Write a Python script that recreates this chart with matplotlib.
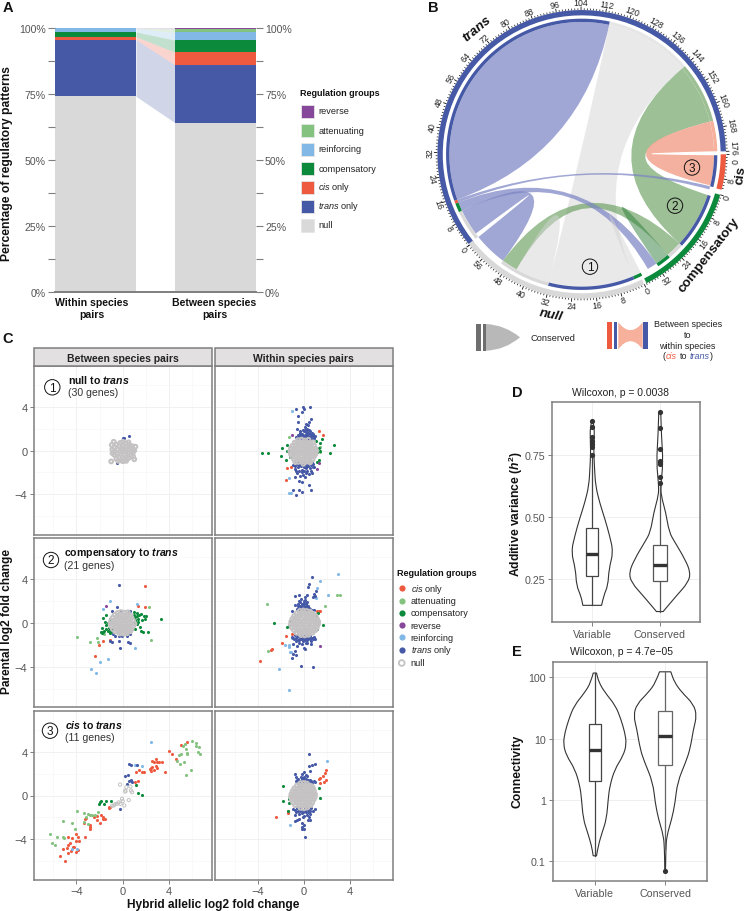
import numpy as np
import matplotlib
matplotlib.use("Agg")
import matplotlib.pyplot as plt
from matplotlib.path import Path
from matplotlib.patches import PathPatch, Circle, Rectangle
from matplotlib.collections import LineCollection

plt.rcParams['font.family'] = ['Liberation Sans', 'DejaVu Sans']
plt.rcParams['mathtext.fontset'] = 'custom'
plt.rcParams['mathtext.rm'] = 'Liberation Sans'
plt.rcParams['mathtext.it'] = 'Liberation Sans:italic'
plt.rcParams['mathtext.bf'] = 'Liberation Sans:bold'
plt.rcParams['mathtext.bfit'] = 'Liberation Sans:italic:bold'

W, H = 747, 912
GREY = '#555555'
FRAME = '#7f7f7f'
colors = {'reverse': '#87479A', 'attenuating': '#84C280', 'reinforcing': '#82B8E6',
          'compensatory': '#0B8A3C', 'cis': '#EE5A40', 'trans': '#4559A6', 'null': '#D9D9D9'}

# panel A
stack_groups = ['null', 'trans', 'cis', 'compensatory', 'reinforcing', 'attenuating', 'reverse']
within_pct = [74.0, 21.5, 1.1, 1.8, 1.3, 0.1, 0.2]
between_pct = [64.0, 21.9, 4.8, 4.6, 2.9, 1.4, 0.4]
legend_a = ['reverse', 'attenuating', 'reinforcing', 'compensatory', r'$\mathit{cis}$ only',
            r'$\mathit{trans}$ only', 'null']
legend_a_keys = ['reverse', 'attenuating', 'reinforcing', 'compensatory', 'cis', 'trans', 'null']

# panel B: sector angles in degrees, clockwise from 0 in sector units
unit_deg = 1.237
sector_start = {'trans': 218.9, 'cis': 0.0, 'compensatory': -16.3, 'null': -64.3}
sector_len = {'trans': 176, 'cis': 11.5, 'compensatory': 38, 'null': 62.5}
sector_tick_labels = {'trans': list(range(0, 177, 8)), 'cis': [0, 8],
                      'compensatory': [0, 8, 16, 24, 32], 'null': [0, 8, 16, 24, 32, 40, 48, 56]}
# (from, to), (from, to), colour key
ribbons = [
    ((78, 40.5), (-67.2, -104.4), 'grey'),
    ((40.5, 14.3), (-17.9, -42.4), 'green'),
    ((14.3, 1.3), (-0.4, -13.6), 'salmon'),
    ((216.8, 205.2), (-126.5, -141.3), 'purple'),
    ((-42.4, -49.5), (-119.5, -126.5), 'green'),
    ((205.2, 201.3), (-55.6, -60.0), 'purple'),
    ((201.3, 200.0), (-14.0, -15.4), 'purple'),
]
self_links = [((200.0, 78.0), 'purple'), ((-104.4, -119.5), 'grey'),
              ((-63.5, -67.2), 'grey'), ((-49.5, -55.6), 'darkgreen')]
chord_colors = {'grey': ('#D4D4D4', 0.5), 'green': ('#5C9650', 0.6), 'salmon': ('#F4A48E', 0.85),
                'purple': ('#7C85C4', 0.72), 'darkgreen': ('#2F7F3C', 0.5)}
outer_track = [('trans', '#4559A6'), ('cis', '#EE5A40'), ('compensatory', '#0B8A3C'), ('null', '#D9D9D9')]
inner_track = [(218.5, 205.2, '#D9D9D9'), (205.2, 201.3, '#0B8A3C'), (201.3, 200.0, '#EE5A40'),
               (200.0, 78.0, '#4559A6'), (78.0, 40.5, '#E6E6E6'), (40.5, 14.3, '#9DBF94'),
               (14.3, 1.3, '#F6B09C'), (-0.4, -14.0, '#4559A6'), (-17.9, -42.4, '#4559A6'),
               (-42.4, -49.5, '#D9D9D9'), (-49.5, -55.6, '#0B8A3C'), (-63.5, -67.2, '#0B8A3C'),
               (-67.2, -104.4, '#4559A6'), (-104.4, -126.5, '#D9D9D9')]
# label only nudges, degrees, so that 176 and 0 sit side by side
label_nudge = {('trans', 176): 1.6, ('cis', 0): -2.4}
sector_names = [('trans', 129.8, 1.136), ('cis', -7.2, 1.112), ('compensatory', -38, 1.122), ('null', -101, 1.127)]

# panel C: points
r1_between = {
    'trans': [(0.03, 1.12), (0.14, 1.18), (0.55, 1.3), (-0.52, -1.1)],
    'null': [(0, -.1), (.25, -.05), (-.25, -.1), (.1, .15), (-.1, .2), (.15, -.35), (-.15, -.35), (.45, .1),
             (-.45, .1), (.5, -.2), (-.5, -.25), (.3, .35), (-.3, .4), (.05, .45), (.35, -.55), (-.3, -.6),
             (.02, -.6), (.7, -.05), (-.7, -.05), (.7, .25), (-.7, .3), (.55, .5), (-.55, .55), (.25, .65),
             (-.2, .7), (.02, .8), (.7, -.4), (-.72, -.4), (.5, -.7), (-.55, -.75), (.15, -.85), (-.2, -.9),
             (.9, .1), (-.9, .1), (.88, -.2), (-.88, -.25), (.82, .4), (-.78, .8), (.5, .75), (1.0, -.8),
             (-1.0, -1.0), (1.1, .35), (.3, -.95), (-.4, -.95), (.9, -.55), (-.95, .5), (.02, -.98), (1.0, 0)],
}
r1_within = {
    'trans': [(-.64, -4.07), (-.9, -3.59), (-.46, -3.59), (-.17, -3.77), (.64, -3.59), (.41, -3.13), (-.17, -2.92),
              (-.46, -2.77), (-.75, -2.46), (.12, -2.46), (-.32, -2.31), (.41, -2.16), (.7, -2.07), (-.6, -2.1),
              (-.05, -2.2), (-.9, -1.3), (-.75, -1.7), (-.6, -1.25), (-.5, -1.55), (-.4, -1.9), (-.35, -1.2),
              (-.25, -1.45), (-.15, -1.75), (-.1, -1.2), (0, -1.5), (.05, -1.9), (.1, -1.25), (.2, -1.6), (.25, -1.2),
              (.3, -1.85), (.4, -1.4), (.45, -1.15), (.55, -1.6), (.65, -1.3), (.8, -1.2), (.9, -1.55), (-.55, -1.15),
              (.6, -1.85), (.15, -1.35), (-.3, -1.35), (-.8, -1.45), (-.65, -1.05), (-.45, -1.35), (-.2, -1.05), (-.02, -1.3),
              (.1, -1.05), (.3, -1.4), (.5, -1.05), (.7, -1.05), (.75, -1.5), (-.7, -1.9), (-.2, -2.0), (.2, -2.05),
              (-.04, 3.95), (.49, 3.95), (-.64, 3.83), (.03, 3.77), (-.12, 3.53), (-.52, 3.16), (.64, 2.86), (-.52, 2.64),
              (.41, 2.64), (.2, 2.46), (.12, 2.16), (.32, 2.31), (-.61, 2.0), (-.55, 1.45), (-.4, 1.2), (-.35, 1.6),
              (-.25, 1.3), (-.2, 1.05), (-.15, 1.55), (-.05, 1.2), (0, 1.75), (.05, 1.05), (.1, 1.4), (.15, 1.65),
              (.2, 1.15), (.25, 1.85), (.3, 1.35), (.35, 1.05), (.4, 1.6), (.45, 1.25), (.5, 1.75), (.55, 1.1), (.6, 1.45),
              (.65, 1.2), (.75, 1.35), (.85, 1.1), (.95, 1.3), (-.5, 1.1), (-.1, 1.9), (.3, 2.0), (.7, 1.6),
              (-.65, 1.25), (-.45, 1.4), (-.3, 1.1), (-.12, 1.4), (.02, 1.3), (.12, 1.15), (.28, 1.55), (.38, 1.3),
              (.52, 1.5), (.62, 1.05), (.8, 1.5), (.9, 1.15), (-.3, 1.75), (.42, 1.85), (.1, 1.85)],
    'compensatory': [(-3.65, -.27), (-3.1, -.21), (-1.88, .21), (-2.0, -.52), (-1.42, .49), (-1.48, -.03), (-1.19, -.03),
                     (-1.54, -.85), (-1.19, -.58), (1.07, .88), (1.57, 1.09), (1.42, .73), (2.61, .49), (2.29, -.21),
                     (1.28, .27), (1.13, -.12), (1.36, -.03), (1.28, -.85), (1.13, -1.09)],
    'cis': [(1.28, 1.79), (1.65, 1.46), (-1.42, -1.61), (-1.13, -1.55), (-1.54, -2.71)],
    'reinforcing': [(-1.33, -2.55), (-1.33, -3.92), (-1.1, -3.86), (-1.04, 3.65)],
    'attenuating': [(-1.33, 1.19), (1.36, .36), (1.42, -.12)],
    'reverse': [(-.99, 1.4), (1.28, -1.16), (1.13, -1.7)],
    'null': [(-.5, .95), (-.2, 1.0), (.1, .92), (.4, .98), (-.8, .72), (-.55, .68), (-.28, .75), (0, .7), (.27, .72),
             (.55, .66), (.8, .74), (-1.0, .42), (-.72, .48), (-.45, .43), (-.18, .5), (.08, .44), (.35, .47), (.62, .42),
             (.88, .48), (-1.13, .18), (-.86, .22), (-.6, .17), (-.32, .22), (-.05, .18), (.22, .23), (.48, .17), (.75, .21),
             (1.0, .17), (-1.18, -.07), (-.95, -.03), (-.7, -.08), (-.45, -.03), (-.18, -.07), (.08, -.03), (.35, -.08),
             (.6, -.03), (.87, -.07), (1.08, -.03), (-1.12, -.32), (-.85, -.27), (-.58, -.33), (-.3, -.28), (-.03, -.33),
             (.22, -.27), (.48, -.32), (.75, -.28), (1.0, -.33), (-1.02, -.57), (-.75, -.52), (-.47, -.58), (-.2, -.53),
             (.08, -.57), (.35, -.52), (.62, -.58), (.88, -.53), (-.85, -.82), (-.6, -.77), (-.32, -.83), (-.05, -.78),
             (.22, -.82), (.5, -.78), (.75, -.83), (-.5, -1.05), (-.2, -1.0), (.1, -1.07), (.4, -1.02), (-.75, -1.05),
             (-.05, -1.22), (.55, -1.08)],
}
r2_between = {
    'trans': [(-.29, 3.4), (-.46, 1.46), (-.93, 1.09), (-.84, -1.03), (-1.07, -1.7), (-.96, -1.73), (-.7, -1.22),
              (-.43, -.97), (-.32, -1.67), (-.2, -2.34), (.23, -1.03), (.38, -1.22), (.67, -1.03), (.46, -1.79),
              (.61, -1.88), (-.35, -1.19), (-.06, -1.19), (.52, 1.03), (.67, 1.06), (-.26, 1.03)],
    'cis': [(1.97, 3.37), (1.97, 1.46), (1.3, 1.52), (-1.07, -1.58), (-1.71, -1.64), (-2.03, -2.0), (-2.38, -2.98)],
    'compensatory': [(1.0, .95), (1.2, .85), (1.4, .75), (1.6, .8), (1.85, .65), (2.0, .58), (1.1, .5), (1.3, .33),
                     (1.7, .27), (1.1, .12), (1.3, .03), (1.97, .33), (1.2, -.12), (.95, -.1), (1.5, -.35), (1.05, .3),
                     (3.3, .36), (2.23, -.88), (1.74, -.82), (1.54, -.73), (1.1, -.58), (1.25, .65), (.98, .7),
                     (-1.42, .73), (-1.71, .4), (-1.5, .03), (-1.3, -.06), (-1.07, .12), (-1.07, .33), (-1.42, -.18),
                     (-1.22, -.43), (-1.42, -.55), (-1.13, -.73), (-.99, -.88), (-1.8, -.49), (-1.88, -.85), (-1.71, -.88),
                     (-1.59, -.73), (-1.28, -.73), (-1.07, -.94), (-1.8, -.97), (-.93, -.12), (-.99, -.58)],
    'reinforcing': [(-1.13, 1.98), (-1.71, 1.28), (1.28, 1.67), (1.1, -2.28), (-1.25, -3.31), (-1.97, -3.59), (-2.75, -4.22),
                    (-2.35, -4.59)],
    'attenuating': [(-3.97, -1.31), (-2.87, -1.73), (-2.2, -1.43), (-2.14, -1.73), (2.29, 1.4), (2.49, -1.58), (-1.59, -1.03)],
    'reverse': [(-1.45, 1.49)],
    'null': [(-.45, .9), (-.15, .98), (.15, .92), (.45, .96), (-.7, .72), (-.42, .67), (-.12, .74), (.15, .68), (.42, .72),
             (.68, .66), (-.88, .46), (-.6, .43), (-.33, .47), (-.05, .42), (.22, .47), (.5, .42), (.77, .45), (-1.0, .17),
             (-.75, .22), (-.48, .18), (-.2, .22), (.08, .17), (.35, .22), (.62, .18), (.9, .2), (-1.05, -.08), (-.82, -.05),
             (-.57, -.09), (-.3, -.04), (-.03, -.09), (.25, -.04), (.5, -.08), (.78, -.05), (1.02, -.08), (-.98, -.33),
             (-.72, -.3), (-.45, -.34), (-.18, -.29), (.1, -.34), (.37, -.29), (.63, -.33), (.9, -.3), (-.85, -.58),
             (-.58, -.54), (-.3, -.59), (-.03, -.54), (.24, -.58), (.5, -.54), (.76, -.58), (-.65, -.8), (-.37, -.78),
             (-.1, -.82), (.17, -.78), (.43, -.82), (.65, -.78), (-.25, -.98), (.1, -1.0), (.35, -.96)],
}
r2_within = {
    'trans': [(.72, 4.19), (.41, 3.53), (.35, 3.22), (1.07, 2.92), (.84, 2.61), (.99, 2.46), (.78, 2.31), (-.75, 2.46),
              (-.46, 2.55), (.26, 2.55), (.12, 2.31), (-.26, 2.16), (.12, 2.07), (-.46, 2.0), (-.75, 1.64), (-.5, 1.7),
              (-.3, 1.9), (-.15, 1.55), (0, 1.8), (.1, 1.4), (.2, 1.7), (.3, 1.9), (-.4, 1.3), (-.1, 1.2), (.3, 1.3),
              (.4, 1.55), (.55, 1.3), (.7, 1.2), (-.6, 1.25), (.05, 1.95), (-.25, 1.45), (.15, 1.15), (.85, 1.15),
              (-.55, 1.5), (-.2, 1.75), (.02, 1.55), (.25, 1.5), (.45, 1.35), (-.35, 1.55),
              (-1.04, 1.03), (-.03, -2.34), (.12, -2.4), (-.75, -2.61), (-.7, -2.92), (-.99, -3.25), (-.9, -2.86),
              (-.26, -3.98), (.81, -4.01), (-.61, -2.1), (-.9, -1.95), (-1.0, -1.25), (-.85, -1.5), (-.8, -1.15),
              (-.65, -1.7), (-.6, -1.3), (-.5, -1.1), (-.45, -1.55), (-.4, -1.85), (-.3, -1.25), (-.25, -1.5), (-.15, -1.15),
              (-.1, -1.7), (0, -1.35), (.05, -1.15), (.1, -1.55), (.15, -1.85), (.25, -1.25), (.3, -1.6), (.35, -1.15),
              (.45, -1.4), (.55, -1.2), (.6, -1.7), (.7, -1.35), (.85, -1.25), (.95, -1.5), (-.2, -1.35), (.2, -1.4),
              (-.9, -1.35), (-.72, -1.4), (-.55, -1.55), (-.35, -1.45), (-.08, -1.5), (.12, -1.35), (.35, -1.4), (.5, -1.5),
              (.8, -1.45), (-.15, -1.95), (.3, -1.85), (.6, -1.95)],
    'cis': [(1.13, 1.06), (1.3, 1.06), (1.42, 1.03), (-1.01, -1.03), (-1.57, -1.16), (-1.88, -1.85), (-2.78, -2.37),
            (-2.87, -2.46), (-3.8, -3.47)],
    'compensatory': [(-2.55, 0), (-1.48, -.36), (-1.28, -.33), (-1.13, .12), (-1.04, .24), (1.25, .88), (1.04, .67),
                     (1.13, .24), (1.19, -.06), (1.65, -.21), (1.13, -.58)],
    'reinforcing': [(2.96, 4.44), (1.42, 3.83), (1.13, 3.19), (2.06, 2.55), (1.04, 2.22), (-1.04, -1.34), (-1.62, -2.0),
                    (-1.33, -2.0), (-1.33, -2.25), (-1.1, -2.7), (-1.19, -2.7), (-2.14, -4.22), (-1.28, -6.14)],
    'attenuating': [(-3.16, 1.67), (1.83, 1.55), (2.9, 2.55), (3.16, 2.55), (-3.1, -2.58), (1.07, .79)],
    'reverse': [(1.36, -2.07)],
    'null': [(-.35, 1.08), (-.05, 1.12), (.25, 1.08), (.55, 1.02), (-.62, .88), (-.33, .85), (-.05, .9), (.23, .85), (.52, .88),
             (.8, .82), (-.85, .62), (-.58, .6), (-.3, .64), (-.02, .6), (.27, .64), (.55, .59), (.82, .63), (1.05, .58),
             (-1.0, .35), (-.75, .38), (-.48, .34), (-.2, .38), (.08, .34), (.36, .38), (.63, .34), (.9, .37), (1.15, .33),
             (-1.1, .08), (-.87, .12), (-.62, .08), (-.33, .11), (-.05, .07), (.22, .12), (.5, .08), (.78, .11), (1.03, .07),
             (1.25, .1), (-1.12, -.18), (-.88, -.14), (-.6, -.19), (-.33, -.14), (-.05, -.19), (.23, -.14), (.5, -.19),
             (.78, -.14), (1.05, -.19), (1.22, -.15), (-1.03, -.44), (-.76, -.4), (-.48, -.45), (-.2, -.4), (.08, -.45),
             (.36, -.4), (.63, -.45), (.9, -.4), (1.12, -.45), (-.85, -.68), (-.58, -.65), (-.3, -.7), (-.02, -.65),
             (.25, -.7), (.53, -.65), (.8, -.7), (1.0, -.66), (-.62, -.92), (-.35, -.9), (-.07, -.94), (.2, -.9), (.48, -.94),
             (.75, -.9), (-.25, -1.12), (.08, -1.15), (.4, -1.1)],
}
r3_between = {
    'cis': [(-4.99, -6.01), (-5.45, -5.5), (-5.16, -4.86), (-4.78, -4.83), (-4.7, -5.23), (-4.49, -5.05), (-4.75, -3.81),
            (-4.41, -3.93), (-4.03, -3.56), (-4.03, -4.17), (-3.8, -4.17), (-3.3, -3.84), (-3.91, -3.81), (-4.32, -4.68),
            (-4.55, -4.38), (-4.2, -4.74), (-3.91, -4.98), (-4.03, -5.14), (-4.7, -4.53), (-3.39, -2.48), (-3.22, -2.11),
            (-3.16, -2.05), (-2.81, -2.72), (-2.81, -3.02), (-2.87, -2.87), (-2.52, -1.96), (-2.23, -2.27), (-2.23, -1.87),
            (-1.94, -2.48), (-1.71, -1.96), (-1.57, -2.18), (-1.71, -2.11), (-1.86, -1.81), (-1.22, -1.06), (-1.07, -1.06),
            (-1.16, -1.12), (1.1, 1.21), (1.33, 1.36), (1.16, 2.11), (1.45, 2.3), (1.68, 2.11), (1.88, 2.11), (2.41, 2.27),
            (2.35, 2.42), (2.55, 2.57), (2.75, 2.36), (2.99, 2.48), (2.99, 3.02), (3.13, 3.08), (2.84, 3.32), (2.7, 3.02),
            (2.55, 3.17), (3.36, 3.08), (3.68, 2.18), (3.97, 4.05), (4.29, 3.75), (4.64, 3.32), (5.54, 4.89), (5.01, 4.59),
            (2.9, 2.72), (2.46, 2.48)],
    'compensatory': [(-2.03, -.76), (-1.86, -.54), (-1.94, -.6), (-1.65, -.76), (-1.42, -.54), (-1.01, -.51), (1.36, .24),
                     (1.65, .09), (1.13, 1.0)],
    'trans': [(.52, 2.9), (.75, 2.81), (1.25, 2.81), (.43, 1.87), (.23, 1.75), (.38, 1.06), (.52, 1.3), (.7, 1.42), (.81, 1.27),
              (-.2, -1.24)],
    'reinforcing': [(1.1, 2.81), (1.68, 2.72), (2.49, 4.92), (-4.41, -4.89), (-3.97, -4.89)],
    'attenuating': [(-6.29, -3.53), (-6.09, -4.32), (-5.86, -4.53), (-5.65, -3.75), (-5.19, -3.84), (-5.04, -3.93), (-5.19, -2.3),
                    (-4.35, -2.54), (-4.17, -3.08), (-3.94, -1.42), (-3.33, -1.57), (-3.04, -1.66), (-3.16, -1.96), (-3.39, -2.42),
                    (-2.87, -1.81), (-2.67, -1.81), (-2.43, -1.81), (-3.04, -2.57), (-2.17, -1.51), (6.03, 4.95), (6.38, 4.83),
                    (5.36, 4.74), (5.25, 4.53), (6.58, 4.44), (6.32, 4.53), (6.52, 4.02), (6.7, 3.84), (5.59, 3.87), (5.59, 3.78),
                    (5.45, 4.29), (5.01, 3.78), (4.87, 3.69), (4.72, 3.17), (4.93, 2.87), (5.3, 3.02), (5.45, 1.9), (5.91, 2.33)],
    'null': [(-.23, 1.0), (.23, .45), (.32, .76), (.67, .82), (.72, .45), (.81, .3), (.23, .36), (-.06, -.3), (0, -.51), (.52, -.42),
             (-.35, -.63), (-.64, -.79), (-.49, -.76), (-.78, -.91), (-.93, -.94), (.14, -.91), (-.2, -.76)],
}
r3_within = {
    'trans': [(.43, 3.78), (.99, 2.87), (.7, 2.78), (.41, 2.66), (.55, 2.27), (-.75, 1.96), (-.67, 1.66), (.03, 2.18), (-.17, 1.96),
              (-.7, 1.3), (-.5, 1.5), (-.35, 1.2), (-.25, 1.65), (-.1, 1.35), (0, 1.7), (.1, 1.2), (.2, 1.5), (.3, 1.1), (.4, 1.45),
              (.55, 1.25), (.7, 1.1), (.85, 1.3), (-.55, 1.1), (-.15, 1.1), (.15, 1.85), (.3, 1.75), (.99, 1.21),
              (-.6, 1.4), (-.42, 1.35), (-.18, 1.5), (.02, 1.25), (.25, 1.3), (.5, 1.4), (.65, 1.3), (-.05, 1.55),
              (.12, -3.78), (-.17, -3.08), (.03, -3.08), (-.17, -2.87), (.03, -2.72), (.49, -2.27), (.32, -2.27), (-.75, -2.36),
              (-.61, -2.27), (-.17, -2.48), (-.46, -2.11), (.41, -1.96), (-.75, -1.81), (.55, -1.66), (-.9, -1.2), (-.7, -1.5),
              (-.6, -1.15), (-.45, -1.7), (-.4, -1.3), (-.25, -1.15), (-.2, -1.6), (-.05, -1.3), (.05, -1.85), (.1, -1.15),
              (.2, -1.5), (.3, -1.2), (.45, -1.35), (.6, -1.15), (.75, -1.4), (.95, -1.2), (-.1, -1.95), (.25, -1.8),
              (-.8, -1.35), (-.55, -1.4), (-.3, -1.45), (-.1, -1.5), (.08, -1.4), (.35, -1.5), (.55, -1.4)],
    'cis': [(-2.38, -1.96), (-1.39, -1.45), (-1.39, -1.57), (1.28, 1.51), (1.42, 1.6), (1.94, 2.33), (1.8, 2.05), (1.65, 1.78),
            (1.91, 1.45), (1.77, 1.21), (1.42, 1.15)],
    'compensatory': [(-1.83, .85), (-1.77, -.51), (-1.33, -.3), (-1.33, -.66), (1.28, .66), (1.36, -.21), (-1.39, -1.39)],
    'reinforcing': [(2.0, 3.14), (-1.19, -2.69)],
    'null': [(-.3, 1.12), (-.02, 1.15), (.26, 1.1), (-.6, .92), (-.33, .88), (-.05, .92), (.22, .88), (.5, .92), (.7, .85),
             (-.83, .66), (-.55, .63), (-.28, .67), (0, .63), (.27, .67), (.55, .62), (.8, .66), (-.98, .38), (-.72, .42),
             (-.45, .38), (-.18, .42), (.1, .38), (.37, .42), (.63, .38), (.88, .41), (-1.08, .12), (-.83, .15), (-.57, .11),
             (-.3, .15), (-.03, .11), (.24, .15), (.5, .11), (.77, .15), (.97, .11), (-1.12, -.14), (-.9, -.11), (-.65, -.15),
             (-.38, -.1), (-.1, -.15), (.17, -.1), (.43, -.15), (.7, -.1), (.95, -.15), (-1.05, -.4), (-.78, -.37), (-.5, -.41),
             (-.23, -.36), (.05, -.41), (.32, -.36), (.58, -.41), (.85, -.37), (-.92, -.65), (-.65, -.62), (-.38, -.66),
             (-.1, -.62), (.17, -.66), (.45, -.62), (.72, -.66), (-.75, -.9), (-.48, -.87), (-.2, -.91), (.07, -.87), (.33, -.91),
             (.6, -.87), (-.3, -1.13), (.02, -1.17), (.3, -1.1)],
}
point_order = ['cis', 'attenuating', 'compensatory', 'reverse', 'reinforcing', 'trans']
legend_c = [('cis', r'$\mathit{cis}$ only'), ('attenuating', 'attenuating'), ('compensatory', 'compensatory'),
            ('reverse', 'reverse'), ('reinforcing', 'reinforcing'), ('trans', r'$\mathit{trans}$ only')]

# panel D
categories = ['Variable', 'Conserved']
d_var_y = [.887, .86, .83, .78, .75, .695, .628, .56, .493, .426, .36, .292, .224, .184, .145]
d_var_w = [2, 6, 6, 5, 5, 7, 10, 22, 38, 52, 63, 50, 47, 34, 28]
d_con_y = [.923, .83, .72, .63, .587, .52, .44, .40, .332, .278, .237, .184, .12]
d_con_w = [3, 5, 10, 3, 4, 18, 28, 45, 75, 92, 85, 50, 10]
d_box = [(.263, .351, .456, .145, .75), (.245, .309, .388, .12, .634)]
d_out_var = [.887, .863, .823, .809, .796, .783, .751]
d_out_con = [.923, .860, .776, .728, .722, .715, .661, .638]

# panel E (log10 connectivity)
e_var_y = [2.07, 1.92, 1.755, 1.54, 1.32, 1.10, .91, .72, .505, .234, .016, -.31, -.527, -.745, -.91]
e_var_w = [5, 12, 30, 62, 78, 90, 95, 85, 60, 45, 40, 35, 22, 10, 5]
e_con_y = [2.09, 1.92, 1.755, 1.565, 1.375, 1.157, .83, .62, .29, -.04, -.31, -.58, -.8, -1.163]
e_con_w = [17, 28, 50, 85, 95, 85, 75, 62, 37, 30, 20, 5, 2, 1]
e_box = [(.315, .82, 1.234, -.91, 2.07), (.57, 1.04, 1.446, -.8, 2.09)]
e_out_con = [-1.163]


fig = plt.figure(figsize=(W / 100, H / 100), dpi=100)


def px_axes(left, top, right, bottom):
    return fig.add_axes([left / W, 1 - bottom / H, (right - left) / W, (bottom - top) / H])


# ---- A ----
ax = px_axes(55, 28.7, 256, 292.7)
within = np.array(within_pct)
between = np.array(between_pct)
for i, g in enumerate(stack_groups):
    b0, b1 = within[:i].sum(), between[:i].sum()
    ax.bar([0, 1], [within[i], between[i]], bottom=[b0, b1], width=0.675, color=colors[g], linewidth=0)
    if g != 'null':
        ax.fill_between([0.3375, 0.6625], [b0, b1], [b0 + within[i], b1 + between[i]], color=colors[g], alpha=0.25, lw=0)
ax.set_xlim(-0.3375, 1.3375)
ax.set_ylim(0, 100)
for s in ['top', 'left', 'right']:
    ax.spines[s].set_visible(False)
ax.spines['bottom'].set_color(FRAME)
ax.spines['bottom'].set_linewidth(1.4)
ax.set_xticks([])
ax.set_yticks([0, 25, 50, 75, 100])
ax.set_yticks([12.5, 37.5, 62.5, 87.5], minor=True)
ax.set_yticklabels(['0%', '25%', '50%', '75%', '100%'])
ax.tick_params(axis='y', which='both', left=True, right=True, labelright=True, length=5, width=0.8, color=FRAME,
               labelsize=7.6, labelcolor=GREY, pad=1.5)


# ---- B ----
cx, cy, R = 581.7, 155.3, 144.3
half = 180
ax = px_axes(cx - half, cy - half, cx + half, cy + half)
ax.set_xlim(-half / R, half / R)
ax.set_ylim(-half / R, half / R)
ax.axis('off')


def pol(deg, r):
    t = np.deg2rad(deg)
    return r * np.cos(t), r * np.sin(t)


def arc_pts(a, b, r, n=60):
    ang = np.linspace(a, b, n)
    return [pol(x, r) for x in ang]


def ring(a, b, r0, r1, color, z=3):
    pts = arc_pts(a, b, r1) + arc_pts(b, a, r0)
    ax.fill(*zip(*pts), color=color, lw=0, zorder=z)


R_CHORD = 0.917


def ribbon_path(a, b=None):
    verts, codes = [], []
    pts = arc_pts(a[0], a[1], R_CHORD)
    verts += pts
    codes += [Path.MOVETO] + [Path.LINETO] * (len(pts) - 1)
    if b is not None:
        pts = arc_pts(b[0], b[1], R_CHORD)
        verts += [(0, 0), pts[0]]
        codes += [Path.CURVE3, Path.CURVE3]
        verts += pts[1:]
        codes += [Path.LINETO] * (len(pts) - 1)
    verts += [(0, 0), pol(a[0], R_CHORD)]
    codes += [Path.CURVE3, Path.CURVE3]
    return Path(verts, codes)


for span, key in self_links[:1]:
    c, al = chord_colors[key]
    ax.add_patch(PathPatch(ribbon_path(span), fc=c, alpha=al, lw=0, zorder=1))
for a, b, key in ribbons:
    c, al = chord_colors[key]
    ax.add_patch(PathPatch(ribbon_path(a, b), fc=c, alpha=al, lw=0, zorder=2))
for span, key in self_links[1:]:
    c, al = chord_colors[key]
    ax.add_patch(PathPatch(ribbon_path(span), fc=c, alpha=al, lw=0, zorder=2))

segs_minor, segs_major = [], []
for name, col in outer_track:
    st, ln = sector_start[name], sector_len[name]
    ring(st, st - ln * unit_deg, 0.963, 1.0, col)
    for u in range(int(ln) + 1):
        a = st - u * unit_deg
        if u % 8 == 0:
            segs_major.append([pol(a, 1.0), pol(a, 1.024)])
        else:
            segs_minor.append([pol(a, 1.0), pol(a, 1.012)])
    for lab in sector_tick_labels[name]:
        a = st - lab * unit_deg + label_nudge.get((name, lab), 0)
        rot = a - 90 if np.sin(np.deg2rad(a)) >= -0.05 else a + 90
        x, y = pol(a, 1.052)
        ax.text(x, y, str(lab), rotation=rot, rotation_mode='anchor', ha='center', va='center', fontsize=6.3, color='#222222')
ax.add_collection(LineCollection(segs_minor, colors='#111111', linewidths=0.5, zorder=4))
ax.add_collection(LineCollection(segs_major, colors='#111111', linewidths=0.6, zorder=4))
for a, b, col in inner_track:
    ring(a, b, R_CHORD, 0.94, col)

for txt, a, r in sector_names:
    rot = a - 90 if a > 0 else a + 90
    x, y = pol(a, r)
    ax.text(x, y, txt, rotation=rot, rotation_mode='anchor', ha='center', va='center', fontsize=9.6, fontweight='bold',
            style='italic' if txt in ('trans', 'null') else 'normal', color='#111111')


# ---- C ----
col_x = [(33.7, 211.7), (215, 392.7)]
row_y = [(367.3, 535.7), (539.3, 708.3), (712.3, 880.7)]
tables = [[r1_between, r1_within], [r2_between, r2_within], [r3_between, r3_within]]
for r, (top, bottom) in enumerate(row_y):
    for c, (left, right) in enumerate(col_x):
        ax = px_axes(left, top, right, bottom)
        ax.set_xlim(-7.7, 7.7)
        ax.set_ylim(-7.7, 7.7)
        ax.set_xticks([-4, 0, 4])
        ax.set_yticks([-4, 0, 4])
        ax.set_xticks([-6, -2, 2, 6], minor=True)
        ax.set_yticks([-6, -2, 2, 6], minor=True)
        ax.set_xticklabels(['\u22124', '0', '4'])
        ax.set_yticklabels(['\u22124', '0', '4'])
        ax.grid(which='major', color='#EFEFEF', lw=0.6)
        ax.grid(which='minor', color='#F5F5F5', lw=0.4)
        ax.set_axisbelow(True)
        ax.tick_params(which='minor', length=0)
        ax.tick_params(which='major', length=3, width=0.7, color=FRAME, labelsize=8, labelcolor=GREY, pad=1.5,
                       left=c == 0, labelleft=c == 0, bottom=r == 2, labelbottom=r == 2)
        for s in ax.spines.values():
            s.set_color(FRAME)
            s.set_linewidth(1.1)
        table = tables[r][c]
        for g in point_order:
            if g in table:
                ax.scatter(*zip(*table[g]), s=5, color=colors[g], linewidths=0, zorder=3)
        sparse = len(table['null']) < 30
        ax.scatter(*zip(*table['null']), s=5.5 if sparse else 7, facecolors='none', edgecolors='#C4C2C2',
                   linewidths=0.7 if sparse else 1.5, zorder=4)


# ---- D, E ----
def smooth_side(xs, ys):
    verts = [(xs[0], ys[0])]
    codes = [Path.LINETO]
    for i in range(1, len(xs) - 1):
        verts += [(xs[i], ys[i]), ((xs[i] + xs[i + 1]) / 2, (ys[i] + ys[i + 1]) / 2)]
        codes += [Path.CURVE3, Path.CURVE3]
    verts.append((xs[-1], ys[-1]))
    codes.append(Path.LINETO)
    return verts, codes


def violin(ax, pos, ys, ws, box, outliers, scale, boxw, boxcol):
    ys = np.array(ys)
    ws = np.array(ws) / scale
    lv, lc = smooth_side(pos - ws, ys)
    rv, rc = smooth_side((pos + ws)[::-1], ys[::-1])
    verts = lv + rv + [lv[0]]
    codes = [Path.MOVETO] + lc[1:] + rc + [Path.CLOSEPOLY]
    ax.add_patch(PathPatch(Path(verts, codes), fc='white', ec='#333333', lw=0.8, zorder=2))
    q1, med, q3, lo, hi = box
    ax.plot([pos, pos], [lo, q1], color=boxcol, lw=0.9, zorder=3)
    ax.plot([pos, pos], [q3, hi], color=boxcol, lw=0.9, zorder=3)
    ax.add_patch(Rectangle((pos - boxw, q1), 2 * boxw, q3 - q1, fc='white', ec=boxcol, lw=0.9, zorder=3))
    ax.plot([pos - boxw, pos + boxw], [med, med], color='#333333', lw=2.4, solid_capstyle='butt', zorder=4)
    ax.scatter([pos] * len(outliers), outliers, s=14, color='#333333', lw=0, zorder=5)


ax = px_axes(551.7, 403.3, 700.3, 622.7)
violin(ax, 0, d_var_y, d_var_w, d_box[0], d_out_var, 202, 0.092, '#444444')
violin(ax, 1, d_con_y, d_con_w, d_box[1], d_out_con, 202, 0.104, '#555555')
ax.set_ylim(0.079, 0.964)
ax.set_yticks([0.25, 0.5, 0.75])
ax.set_yticklabels(['0.25', '0.50', '0.75'])

ax2 = px_axes(552.7, 662.7, 707.3, 882.3)
violin(ax2, 0, e_var_y, e_var_w, e_box[0], [], 211, 0.09, '#444444')
violin(ax2, 1, e_con_y, e_con_w, e_box[1], e_out_con, 211, 0.104, '#666666')
ax2.set_ylim(-1.326, 2.255)
ax2.set_yticks([-1, 0, 1, 2])
ax2.set_yticklabels(['0.1', '1', '10', '100'])

for a in (ax, ax2):
    a.set_xlim(-0.6, 1.6)
    a.set_xticks([0, 1])
    a.set_xticklabels(categories)
    a.grid(color='#EFEFEF', lw=0.7)
    a.set_axisbelow(True)
    a.tick_params(length=3, width=0.7, color=FRAME, labelsize=7.7, labelcolor=GREY, pad=2)
    for s in a.spines.values():
        s.set_color(FRAME)
        s.set_linewidth(1.1)


# ---- annotation layer in pixels ----
bg = fig.add_axes([0, 0, 1, 1])
bg.set_xlim(0, W)
bg.set_ylim(H, 0)
bg.axis('off')
bg.patch.set_alpha(0)

for s, x, y in [('A', 2.5, 8), ('B', 428, 8), ('C', 2.5, 339), ('D', 512, 393.5), ('E', 512, 652)]:
    bg.text(x, y, s, fontsize=10.5, fontweight='bold', va='center', ha='left', color='#111111')

# A texts
bg.text(7.5, 163.5, 'Percentage of regulatory patterns', rotation=90, fontsize=8.7, fontweight='bold', ha='center', va='center', color='#111111')
bg.text(92, 309, 'Within species\npairs', fontsize=7.6, fontweight='bold', ha='center', va='center', linespacing=1.15, color='#111111')
bg.text(214.5, 309, 'Between species\npairs', fontsize=7.6, fontweight='bold', ha='center', va='center', linespacing=1.15, color='#111111')
bg.text(300.5, 94, 'Regulation groups', fontsize=6.5, fontweight='bold', va='center', color='#111111')
for i, (lab, key) in enumerate(zip(legend_a, legend_a_keys)):
    y = 112 + i * 19
    bg.add_patch(Rectangle((300.5, y - 6.5), 13, 13, fc=colors[key], ec='#E6E6E6', lw=0.6))
    bg.text(318.5, y, lab, fontsize=6.6, va='center', color='#222222')

# B numbers and legend
for s, x, y in [('1', 590, 267.7), ('2', 675, 206.7), ('3', 692, 168.5)]:
    bg.add_patch(Circle((x, y), 7.7, fc='none', ec='#111111', lw=0.7))
    bg.text(x, y + 0.3, s, fontsize=8.5, ha='center', va='center', color='#111111')
bg.add_patch(Rectangle((475.7, 325), 5.6, 26.7, fc='#6E6E6E', lw=0))
bg.add_patch(Rectangle((483, 325), 2.7, 26.7, fc='#6E6E6E', lw=0))
cons = Path([(486, 325), (505, 326), (520, 338.3), (505, 351), (486, 351.7), (486, 325)],
            [Path.MOVETO, Path.CURVE3, Path.CURVE3, Path.CURVE3, Path.CURVE3, Path.CLOSEPOLY])
bg.add_patch(PathPatch(cons, fc='#B8B8B8', lw=0))
bg.text(553, 338.7, 'Conserved', fontsize=6.7, ha='center', va='center', color='#222222')
bg.add_patch(Rectangle((606.7, 323.3), 5.6, 27, fc='#EE5A40', lw=0))
bg.add_patch(Rectangle((614, 323.3), 3, 27, fc='#4559A6', lw=0))
bg.add_patch(Rectangle((642.7, 323.3), 5, 27, fc='#4559A6', lw=0))
pinch = Path([(618.3, 323.3), (630.5, 339), (642.7, 323.3), (642.7, 350.3), (630.5, 334), (618.3, 350.3), (618.3, 323.3)],
             [Path.MOVETO, Path.CURVE3, Path.CURVE3, Path.LINETO, Path.CURVE3, Path.CURVE3, Path.CLOSEPOLY])
bg.add_patch(PathPatch(pinch, fc='#F6B09C', lw=0))
for txt, y in [('Between species', 324.7), ('to', 335.7), ('within species', 346.7)]:
    bg.text(687.7, y, txt, fontsize=6.5, ha='center', va='center', color='#222222')
bg.text(662.5, 357, '(', fontsize=6.5, ha='left', va='center', color='#222222')
bg.text(666, 357, 'cis', fontsize=6.5, style='italic', ha='left', va='center', color='#EE5A40')
bg.text(679.5, 357, 'to', fontsize=6.5, ha='left', va='center', color='#222222')
bg.text(690, 357, 'trans', fontsize=6.5, style='italic', ha='left', va='center', color='#4559A6')
bg.text(710, 357, ')', fontsize=6.5, ha='left', va='center', color='#222222')

# C strips and labels
for (left, right), txt in zip(col_x, ['Between species pairs', 'Within species pairs']):
    bg.add_patch(Rectangle((left, 349.3), right - left, 18, fc='#E2E0E0', ec=FRAME, lw=1.1))
    bg.text((left + right) / 2, 358.6, txt, fontsize=7.5, fontweight='bold', ha='center', va='center', color='#222222')
for s, x, y in [('1', 52.3, 388.3), ('2', 51, 561), ('3', 50, 731.7)]:
    bg.add_patch(Circle((x, y), 7.7, fc='white', ec='#111111', lw=0.7))
    bg.text(x, y + 0.3, s, fontsize=8.5, ha='center', va='center', color='#111111')
bg.text(67.5, 380.5, r'null to $\mathbfit{trans}$', fontsize=7.6, fontweight='bold', va='center', color='#111111')
bg.text(67.5, 393.5, '(30 genes)', fontsize=7.6, va='center', color='#333333')
bg.text(63.5, 553.5, r'compensatory to $\mathbfit{trans}$', fontsize=7.6, fontweight='bold', va='center', color='#111111')
bg.text(63.5, 566.5, '(21 genes)', fontsize=7.6, va='center', color='#333333')
bg.text(65, 725.5, r'$\mathbfit{cis}$ to $\mathbfit{trans}$', fontsize=7.6, fontweight='bold', va='center', color='#111111')
bg.text(65, 738.5, '(11 genes)', fontsize=7.6, va='center', color='#333333')
bg.text(7, 622, 'Parental log2 fold change', rotation=90, fontsize=8.6, fontweight='bold', ha='center', va='center', color='#111111')
bg.text(213.5, 905, 'Hybrid allelic log2 fold change', fontsize=8.6, fontweight='bold', ha='center', va='center', color='#111111')
bg.text(397, 573.7, 'Regulation groups', fontsize=6.5, fontweight='bold', va='center', color='#111111')
for i, (key, lab) in enumerate(legend_c):
    y = 589.3 + i * 12.25
    bg.scatter([401.7], [y], s=20, color=colors[key], lw=0)
    bg.text(410.7, y, lab, fontsize=6.6, va='center', color='#222222')
bg.scatter([401.7], [664], s=17, facecolors='none', edgecolors='#C4C2C2', linewidths=1.3)
bg.text(410.7, 664, 'null', fontsize=6.6, va='center', color='#222222')

# D/E titles
bg.text(621, 393.5, 'Wilcoxon, p = 0.0038', fontsize=7.5, ha='center', va='center', color='#222222')
bg.text(622, 652.5, 'Wilcoxon, p = 4.7e\u221205', fontsize=7.5, ha='center', va='center', color='#222222')
bg.text(515.5, 514, r'Additive variance ($\mathbfit{h}^{\mathbf{2}}$)', rotation=90, fontsize=8.7, fontweight='bold', ha='center', va='center', color='#111111')
bg.text(518, 771, 'Connectivity', rotation=90, fontsize=8.7, fontweight='bold', ha='center', va='center', color='#111111')

fig.savefig('out.png', dpi=100)
